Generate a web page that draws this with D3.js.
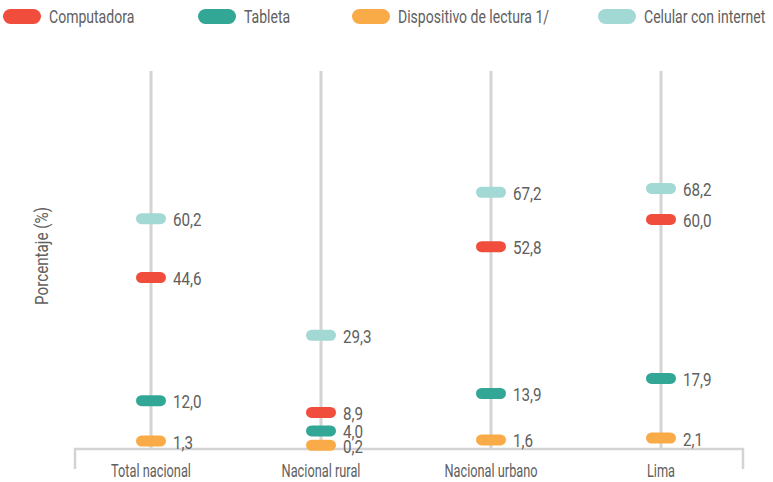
<!DOCTYPE html>
<html>
<head>
<meta charset="utf-8">
<script src="https://cdnjs.cloudflare.com/ajax/libs/d3/7.8.5/d3.min.js"></script>
<style>
  body { margin: 0; background: #fff; }
  text { font-family: Roboto, "Noto Sans", sans-serif; fill: #606060; }
</style>
</head>
<body>
<div id="chart"></div>
<script>
var categories = ["Total nacional", "Nacional rural", "Nacional urbano", "Lima"];
var series = ["Computadora", "Tableta", "Dispositivo de lectura 1/", "Celular con internet"];
var computadora = [44.6, 8.9, 52.8, 60.0];
var tableta = [12.0, 4.0, 13.9, 17.9];
var lectura = [1.3, 0.2, 1.6, 2.1];
var celular = [60.2, 29.3, 67.2, 68.2];
var colours = ["#f04d3d", "#33a796", "#f9ab48", "#a2d9d5"];

var width = 773, height = 482;

var svg = d3.select("#chart").append("svg")
    .attr("width", width)
    .attr("height", height);

var x = d3.scalePoint()
    .domain(categories)
    .range([151, 661]);

var y = d3.scaleLinear()
    .domain([0, 100])
    .range([446, 68.4]);

var fmt = function (v) { return d3.format(".1f")(v).replace(".", ","); };

// condensed look: squeeze text horizontally
function place(px, py, sx) {
    return "translate(" + px + "," + py + ") scale(" + sx + ",1)";
}

// vertical guide lines
svg.selectAll("line.guide")
  .data(categories)
  .enter()
    .append("line")
    .attr("class", "guide")
    .attr("x1", function (d) { return x(d); })
    .attr("x2", function (d) { return x(d); })
    .attr("y1", 71)
    .attr("y2", 449)
    .style("stroke", "#d4d4d4")
    .style("stroke-width", 3);

// bottom axis bracket
svg.append("path")
    .attr("d", "M75,469V449H743V469")
    .style("fill", "none")
    .style("stroke", "#d4d4d4")
    .style("stroke-width", 2.5);

svg.selectAll("text.cat")
  .data(categories)
  .enter()
    .append("text")
    .attr("class", "cat")
    .attr("transform", function (d) { return place(x(d), 477, 0.71); })
    .attr("text-anchor", "middle")
    .style("font-size", "18px")
    .text(function (d) { return d; });

// y title
svg.append("text")
    .attr("transform", "translate(48,256) rotate(-90)")
    .attr("text-anchor", "middle")
    .style("font-size", "18px")
    .attr("textLength", 98)
    .attr("lengthAdjust", "spacingAndGlyphs")
    .text("Porcentaje (%)");

var allSeries = [computadora, tableta, lectura, celular];
var points = [];
allSeries.forEach(function (vals, s) {
    vals.forEach(function (v, i) {
        points.push({ cat: categories[i], value: v, s: s });
    });
});

var g = svg.selectAll("g.pt")
  .data(points)
  .enter()
    .append("g")
    .attr("class", "pt")
    .attr("transform", function (d) { return "translate(" + x(d.cat) + "," + y(d.value) + ")"; });

g.append("rect")
    .attr("x", -15)
    .attr("y", -5.5)
    .attr("width", 30)
    .attr("height", 11)
    .attr("rx", 5.5)
    .style("fill", function (d) { return colours[d.s]; });

g.append("text")
    .attr("transform", place(22, 7.5, 0.8))
    .style("font-size", "19px")
    .text(function (d) { return fmt(d.value); });

// legend
var legendX = [3, 198, 352, 598];
var lg = svg.selectAll("g.legend")
  .data(series)
  .enter()
    .append("g")
    .attr("class", "legend")
    .attr("transform", function (d, i) { return "translate(" + legendX[i] + ",16.5)"; });

lg.append("rect")
    .attr("x", 0)
    .attr("y", -7.5)
    .attr("width", 38)
    .attr("height", 15)
    .attr("rx", 7.5)
    .style("fill", function (d, i) { return colours[i]; });

lg.append("text")
    .attr("transform", place(46, 6.5, 0.78))
    .style("font-size", "18px")
    .text(function (d) { return d; });
</script>
</body>
</html>
